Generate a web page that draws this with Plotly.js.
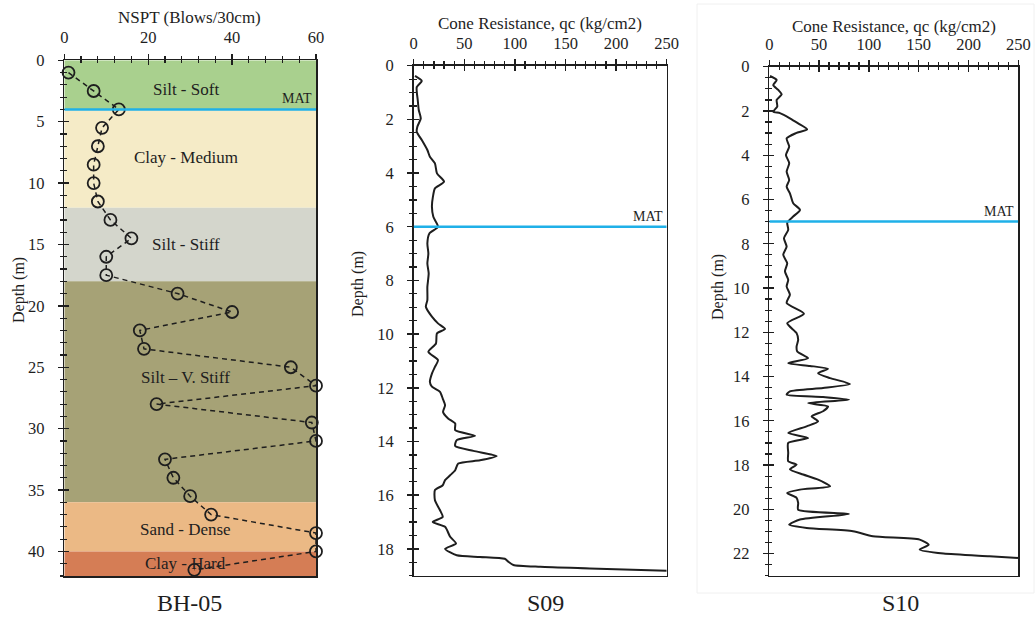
<!DOCTYPE html>
<html>
<head>
<meta charset="utf-8">
<script src="https://cdn.plot.ly/plotly-3.0.1.min.js"></script>
<style>html,body{margin:0;padding:0;background:#fff}#chart{width:1035px;height:618px}</style>
</head>
<body>
<div id="chart"></div>
<script>
// ---------------- DATA ----------------
const nsptDepth = [1, 2.5, 4, 5.5, 7, 8.5, 10, 11.5, 13, 14.5, 16, 17.5, 19, 20.5, 22, 23.5, 25, 26.5, 28, 29.5, 31, 32.5, 34, 35.5, 37, 38.5, 40, 41.5];
const nsptValue = [1, 7, 13, 9, 8, 7, 7, 8, 11, 16, 10, 10, 27, 40, 18, 19, 54, 60, 22, 59, 60, 24, 26, 30, 35, 60, 60, 31];

const layerNames  = ['Silt - Soft', 'Clay - Medium', 'Silt - Stiff', 'Silt \u2013 V. Stiff', 'Sand - Dense', 'Clay - Hard'];
const layerTop    = [0, 4, 12, 18, 36, 40];
const layerBottom = [4, 12, 18, 36, 40, 42];

const s09Depth = [0.38, 0.57, 0.8, 1.28, 1.65, 1.96, 2.27, 2.46, 2.77, 3.14, 3.39, 3.64, 4.01, 4.32, 4.57, 4.88, 5.25, 5.63, 6.0, 6.25, 6.62, 7.0, 7.37, 7.74, 8.24, 8.73, 8.98, 9.35, 9.6, 9.81, 9.97, 10.35, 10.66, 10.97, 11.22, 11.47, 11.78, 11.96, 12.15, 12.4, 12.65, 12.9, 13.14, 13.33, 13.58, 13.79, 13.95, 14.17, 14.35, 14.54, 14.7, 14.82, 15.07, 15.26, 15.44, 15.63, 15.81, 16.19, 16.56, 16.81, 17.0, 17.18, 17.55, 17.8, 18.0, 18.24, 18.3, 18.37, 18.48, 18.6, 18.67, 18.73, 18.82];
const s09Qc    = [1.3, 8, 3, 4, 5, 7, 3.6, 3, 8, 13.5, 16, 21, 23, 30, 21, 19, 18, 19.4, 24, 15.5, 13.5, 14.5, 13.5, 14.8, 13.5, 13.5, 12, 18, 24, 31, 23, 22, 14.5, 24, 21, 18, 16, 18, 26, 28.7, 31, 29, 34, 41, 41, 60.6, 42.5, 41, 59, 82, 65.5, 44, 41, 36, 31, 28.7, 21, 21, 26, 28.7, 18.8, 31, 36, 41.8, 31, 42.5, 65.5, 90, 93.5, 98.5, 125, 174, 250];

const s10Depth = [0.42, 0.6, 0.83, 1.05, 1.25, 1.5, 1.8, 2.03, 2.1, 2.33, 2.56, 2.83, 3.0, 3.24, 3.61, 3.99, 4.36, 4.74, 5.12, 5.42, 5.72, 6.17, 6.47, 6.77, 7.04, 7.37, 7.75, 8.13, 8.5, 8.88, 9.25, 9.63, 9.93, 10.3, 10.68, 11.16, 11.59, 12.04, 12.34, 12.64, 12.87, 13.17, 13.4, 13.52, 13.65, 13.85, 14.07, 14.34, 14.52, 14.67, 14.82, 14.93, 15.05, 15.2, 15.35, 15.57, 15.8, 16.03, 16.25, 16.55, 16.78, 17.0, 17.45, 17.83, 17.98, 18.2, 18.43, 18.66, 18.96, 19.11, 19.26, 19.48, 19.71, 20.02, 20.21, 20.46, 20.69, 20.84, 20.99, 21.22, 21.37, 21.6, 21.82, 22.0, 22.12, 22.2];
const s10Qc    = [0.7, 7.4, 4, 9, 12.4, 7.4, 8, 4, 10.7, 20.7, 29, 38, 26.8, 17.4, 20, 16.7, 20, 17.4, 20, 17.4, 20.7, 24, 30.8, 24, 18, 19, 14.7, 17.4, 14, 18, 15.7, 19, 17.4, 20.7, 17.4, 34.8, 18, 27.4, 29, 27.4, 28, 39, 19, 40.8, 59, 49, 61, 81, 54, 20.7, 17.4, 54, 80, 39, 59, 54, 42.5, 49, 37.5, 19, 39, 19, 19, 19, 27.4, 20.7, 34, 49, 61, 30.8, 18, 27.4, 29, 29, 80, 30.8, 20, 37.5, 84, 104, 151, 160, 151, 175, 221, 250];

const matDepth   = [4, 6, 7];          // BH-05, S09, S10
const panelNames = ['BH-05', 'S09', 'S10'];
const xTitles    = ['NSPT (Blows/30cm)', 'Cone Resistance, qc (kg/cm2)', 'Cone Resistance, qc (kg/cm2)'];
const yTitle     = 'Depth (m)';

// ---------------- STYLE / LAYOUT ----------------
const W = 1035, H = 618;
const F = 'Liberation Serif, Times New Roman, serif';
const INK = '#1e1e1e';
const layerColors = ['#a9d08e', '#f5ebc7', '#d4d6cc', '#a6a276', '#ebb985', '#d57d55'];
const MATC = '#1fb0e8';

// pixel boxes of the three plot areas
const boxes = [
  {x0: 64.3, x1: 316, y0: 60.3, y1: 576, xr: [0, 60], yr: [42, 0], xd: 20, xm: 4, yd: 5, ym: 1},
  {x0: 413.7, x1: 666.7, y0: 65.7, y1: 575.7, xr: [0, 250], yr: [19, 0], xd: 50, xm: 10, yd: 2, ym: 0.5},
  {x0: 769.3, x1: 1018.3, y0: 66.7, y1: 575.7, xr: [0, 250], yr: [23, 0], xd: 50, xm: 10, yd: 2, ym: 0.5}
];
const px = v => v / W, py = v => 1 - v / H;

const layout = {
  width: W, height: H,
  margin: {l: 0, r: 0, t: 0, b: 0},
  paper_bgcolor: '#fff', plot_bgcolor: 'rgba(0,0,0,0)',
  showlegend: false,
  font: {family: F, color: INK},
  shapes: [], annotations: []
};

// faint frame around the S10 panel picture
layout.shapes.push({type: 'rect', xref: 'paper', yref: 'paper', x0: px(697), x1: px(1034), y0: py(593), y1: py(4),
  line: {color: '#f0f0f0', width: 1}, fillcolor: 'rgba(0,0,0,0)', layer: 'below'});

boxes.forEach((b, i) => {
  const n = i + 1, o = i + 4;
  const xs = n === 1 ? '' : n, ys = n === 1 ? '' : n;
  const tf = {family: F, size: 16.5, color: INK};
  layout['xaxis' + xs] = {
    domain: [px(b.x0), px(b.x1)], anchor: 'y' + ys, side: 'top', range: b.xr,
    tick0: 0, dtick: b.xd, ticks: 'outside', ticklen: 5, tickwidth: 1.4, tickcolor: INK,
    minor: {dtick: b.xm, ticks: 'outside', ticklen: 3, tickwidth: 1.2, tickcolor: INK, showgrid: false},
    showline: true, linecolor: INK, linewidth: 1.6, mirror: true,
    showgrid: false, zeroline: false, tickfont: tf, ticklabelstandoff: 4, fixedrange: true
  };
  layout['yaxis' + ys] = {
    domain: [py(b.y1), py(b.y0)], anchor: 'x' + xs, range: b.yr,
    tick0: 0, dtick: b.yd, ticks: 'outside', ticklen: 5, tickwidth: 1.4, tickcolor: INK,
    minor: {dtick: b.ym, ticks: 'outside', ticklen: 3, tickwidth: 1.2, tickcolor: INK, showgrid: false},
    showline: true, linecolor: INK, linewidth: 1.6, mirror: true,
    showgrid: false, zeroline: false, tickfont: tf, ticklabelstandoff: 10, fixedrange: true
  };
  // overlay axes supplying the inner half of the crossing ticks
  layout['xaxis' + o] = {
    overlaying: 'x' + xs, anchor: 'y' + o, side: 'top', range: b.xr,
    tick0: 0, dtick: b.xd, ticks: 'inside', ticklen: 5, tickwidth: 1.4, tickcolor: INK,
    minor: {dtick: b.xm, ticks: 'inside', ticklen: 3, tickwidth: 1.2, tickcolor: INK, showgrid: false},
    showline: false, showgrid: false, zeroline: false, showticklabels: false, fixedrange: true
  };
  layout['yaxis' + o] = {
    overlaying: 'y' + ys, anchor: 'x' + o, side: 'left', range: b.yr,
    tick0: 0, dtick: b.yd, ticks: 'inside', ticklen: 5, tickwidth: 1.4, tickcolor: INK,
    minor: {dtick: b.ym, ticks: 'inside', ticklen: 3, tickwidth: 1.2, tickcolor: INK, showgrid: false},
    showline: false, showgrid: false, zeroline: false, showticklabels: false, fixedrange: true
  };

  // MAT line
  layout.shapes.push({type: 'line', xref: 'x' + xs, yref: 'y' + ys, x0: b.xr[0], x1: b.xr[1],
    y0: matDepth[i], y1: matDepth[i], line: {color: MATC, width: 2.5}, layer: 'above'});
  layout.annotations.push({xref: 'x' + xs, yref: 'y' + ys, x: b.xr[1], y: matDepth[i],
    text: 'MAT', showarrow: false, xanchor: 'right', yanchor: 'bottom', xshift: -2, yshift: 1,
    font: {family: F, size: 14, color: INK}});

  // titles
  const titleY = [18, 23, 26][i];
  layout.annotations.push({xref: 'paper', yref: 'paper', x: px((b.x0 + b.x1) / 2 + (i === 0 ? -1 : 0)), y: py(titleY),
    text: xTitles[i], showarrow: false, xanchor: 'center', yanchor: 'middle', font: {family: F, size: 17, color: INK}});
  const yTitleX = [19, 358, 718][i], yTitleY = [290, 284, 287][i];
  layout.annotations.push({xref: 'paper', yref: 'paper', x: px(yTitleX), y: py(yTitleY), textangle: -90,
    text: yTitle, showarrow: false, xanchor: 'center', yanchor: 'middle', font: {family: F, size: 16, color: INK}});
  const nameX = [189, 545, 900][i];
  layout.annotations.push({xref: 'paper', yref: 'paper', x: px(nameX), y: py(603),
    text: panelNames[i], showarrow: false, xanchor: 'center', yanchor: 'middle', borderpad: 0,
    font: {family: F, size: 24, color: INK}});
});

// soil layers
const labelDepth = [2.4, 7.9, 15, 25.8, 38.2, 41];
layerNames.forEach((nm, i) => {
  layout.shapes.push({type: 'rect', xref: 'x', yref: 'y', x0: 0, x1: 60, y0: layerTop[i], y1: layerBottom[i],
    fillcolor: layerColors[i], line: {width: 0}, layer: 'below'});
  layout.annotations.push({xref: 'x', yref: 'y', x: 29, y: labelDepth[i], text: nm, showarrow: false,
    xanchor: 'center', yanchor: 'middle', font: {family: F, size: 17, color: INK}});
});

const traces = [
  {x: nsptValue, y: nsptDepth, xaxis: 'x', yaxis: 'y', type: 'scatter', mode: 'lines+markers',
   line: {color: INK, width: 1.5, dash: '5px,4px'}, cliponaxis: false,
   marker: {symbol: 'circle-open', size: 12, color: INK, line: {width: 1.8, color: INK}}, hoverinfo: 'skip'},
  {x: s09Qc, y: s09Depth, xaxis: 'x2', yaxis: 'y2', type: 'scatter', mode: 'lines',
   line: {color: INK, width: 2, shape: 'spline', smoothing: 0.6}, hoverinfo: 'skip'},
  {x: s10Qc, y: s10Depth, xaxis: 'x3', yaxis: 'y3', type: 'scatter', mode: 'lines',
   line: {color: INK, width: 2, shape: 'spline', smoothing: 0.6}, hoverinfo: 'skip'},
  {x: [], y: [], xaxis: 'x4', yaxis: 'y4', type: 'scatter', hoverinfo: 'skip'},
  {x: [], y: [], xaxis: 'x5', yaxis: 'y5', type: 'scatter', hoverinfo: 'skip'},
  {x: [], y: [], xaxis: 'x6', yaxis: 'y6', type: 'scatter', hoverinfo: 'skip'}
];

Plotly.newPlot('chart', traces, layout, {staticPlot: true, displayModeBar: false});
</script>
</body>
</html>
